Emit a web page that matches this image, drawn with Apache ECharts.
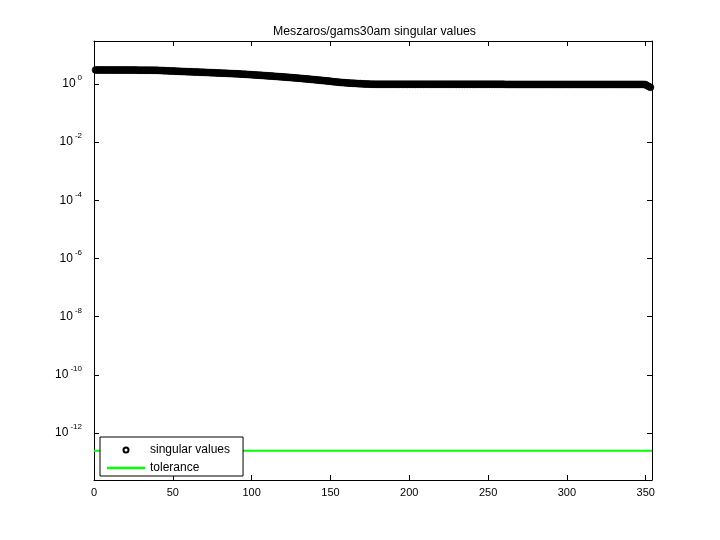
<!DOCTYPE html>
<html>
<head>
<meta charset="utf-8">
<script src="https://cdn.jsdelivr.net/npm/echarts@6/dist/echarts.min.js"></script>
<style>html,body{margin:0;padding:0;background:#fff}#c{width:720px;height:540px}</style>
</head>
<body>
<div id="c"></div>
<script>
const titleText = 'Meszaros/gams30am singular values';
const xTicks = [0, 50, 100, 150, 200, 250, 300, 350];
const xMax = 354;
const yTicks = [1e-12, 1e-10, 1e-8, 1e-6, 1e-4, 1e-2, 1];
const yMinExp = -13.62, yMaxExp = 1.48;
const singularValues = [
3.06,3.05,3.05,3.05,3.04,3.04,3.04,3.04,3.03,3.03,
3.03,3.03,3.03,3.03,3.02,3.02,3.02,3.02,3.02,3.02,
3.02,3.01,3.01,3.01,3.01,3.01,3.01,3.00,3.00,3.00,
3.00,3.00,2.99,2.99,2.99,2.99,2.98,2.98,2.97,2.96,
2.94,2.93,2.91,2.89,2.88,2.86,2.84,2.83,2.81,2.79,
2.78,2.76,2.75,2.73,2.72,2.70,2.69,2.68,2.66,2.65,
2.64,2.62,2.61,2.60,2.58,2.57,2.56,2.54,2.53,2.52,
2.50,2.49,2.48,2.46,2.45,2.44,2.42,2.41,2.40,2.38,
2.37,2.36,2.34,2.33,2.32,2.30,2.29,2.28,2.26,2.25,
2.24,2.22,2.21,2.19,2.18,2.16,2.14,2.12,2.11,2.09,
2.07,2.06,2.04,2.02,2.00,1.99,1.97,1.95,1.94,1.92,
1.90,1.88,1.87,1.85,1.83,1.82,1.80,1.78,1.77,1.75,
1.73,1.72,1.70,1.68,1.67,1.65,1.63,1.61,1.60,1.58,
1.56,1.55,1.53,1.51,1.49,1.48,1.46,1.44,1.43,1.41,
1.39,1.37,1.36,1.34,1.32,1.31,1.29,1.27,1.26,1.24,
1.22,1.20,1.19,1.17,1.16,1.14,1.13,1.12,1.11,1.10,
1.09,1.08,1.07,1.06,1.06,1.05,1.04,1.03,1.03,1.02,
1.01,1.01,1.00,1.00,0.99,0.99,0.99,0.98,0.98,0.98,
0.98,0.98,0.98,0.98,0.98,0.98,0.98,0.98,0.98,0.98,
0.98,0.98,0.98,0.98,0.98,0.98,0.98,0.98,0.98,0.98,
0.98,0.98,0.98,0.98,0.98,0.98,0.98,0.98,0.98,0.98,
0.98,0.98,0.98,0.98,0.98,0.98,0.98,0.98,0.98,0.98,
0.98,0.98,0.98,0.98,0.98,0.98,0.98,0.98,0.98,0.98,
0.98,0.98,0.98,0.98,0.98,0.98,0.98,0.98,0.98,0.98,
0.98,0.98,0.98,0.98,0.98,0.98,0.98,0.98,0.98,0.98,
0.98,0.98,0.98,0.98,0.98,0.98,0.98,0.98,0.98,0.98,
0.97,0.97,0.97,0.97,0.97,0.97,0.97,0.97,0.97,0.97,
0.97,0.97,0.97,0.97,0.97,0.97,0.97,0.97,0.97,0.97,
0.97,0.97,0.97,0.97,0.97,0.97,0.97,0.97,0.97,0.97,
0.97,0.97,0.97,0.97,0.97,0.97,0.97,0.97,0.97,0.97,
0.97,0.97,0.97,0.97,0.97,0.97,0.97,0.97,0.97,0.97,
0.97,0.97,0.97,0.97,0.97,0.97,0.97,0.97,0.97,0.97,
0.97,0.97,0.97,0.97,0.97,0.97,0.97,0.97,0.97,0.97,
0.97,0.97,0.97,0.97,0.97,0.97,0.97,0.97,0.97,0.97,
0.97,0.97,0.97,0.97,0.97,0.97,0.97,0.97,0.97,0.95,
0.88,0.82,0.77
];
const toleranceX = [0, 354];
const toleranceY = [2.45e-13, 2.45e-13];

const FONT = 'Liberation Sans, Arial, Helvetica, sans-serif';
const svData = singularValues.map((v, i) => [i + 1, v]);
const tolData = toleranceX.map((x, i) => [x, toleranceY[i]]);

function yFmt(v) {
  const e = Math.round(Math.log10(v));
  return '{b|10}{s|' + e + '}';
}

const chart = echarts.init(document.getElementById('c'), null, {renderer: 'canvas'});
const axisLineStyle = {color: '#000', width: 1};
chart.setOption({
  animation: false,
  backgroundColor: '#fff',
  title: {
    text: titleText, left: 268, top: 21,
    textStyle: {fontFamily: FONT, fontSize: 12.3, fontWeight: 'normal', color: '#000'}
  },
  grid: {left: 94, right: 68, top: 41, bottom: 60, containLabel: false},
  legend: {
    left: 100, top: 437, orient: 'vertical',
    backgroundColor: '#fff', borderColor: '#000', borderWidth: 1,
    padding: [5, 13, 2, 6], itemGap: 4, itemWidth: 38, itemHeight: 14,
    symbolKeepAspect: true,
    textStyle: {fontFamily: FONT, fontSize: 12, color: '#000'},
    data: [
      {name: 'singular values',
       icon: 'path://M0,0M38,14M16.5,7A2.5,2.5 0 1 1 21.5,7A2.5,2.5 0 1 1 16.5,7Z',
       itemStyle: {color: 'rgba(0,0,0,0)', borderColor: '#000', borderWidth: 2}},
      {name: 'tolerance',
       icon: 'path://M0,0L38,0L38,2.5L0,2.5Z',
       itemStyle: {color: '#00ff00', borderWidth: 0}}
    ]
  },
  xAxis: [{
    type: 'value', min: 0, max: xMax, interval: 50, position: 'bottom',
    axisLine: {show: true, onZero: false, lineStyle: axisLineStyle},
    axisTick: {show: true, inside: true, length: 5, lineStyle: axisLineStyle, customValues: xTicks},
    axisLabel: {customValues: xTicks, fontFamily: FONT, fontSize: 11, color: '#000', margin: 7},
    splitLine: {show: false}
  }, {
    type: 'value', min: 0, max: xMax, interval: 50, position: 'top',
    axisLine: {show: true, onZero: false, lineStyle: axisLineStyle},
    axisTick: {show: true, inside: true, length: 5, lineStyle: axisLineStyle, customValues: xTicks},
    axisLabel: {show: false}, splitLine: {show: false}
  }],
  yAxis: [{
    type: 'log', logBase: 10, min: Math.pow(10, yMinExp), max: Math.pow(10, yMaxExp),
    position: 'left',
    axisLine: {show: true, onZero: false, lineStyle: axisLineStyle},
    axisTick: {show: true, inside: true, length: 5, lineStyle: axisLineStyle, customValues: yTicks},
    minorTick: {show: false},
    axisLabel: {
      customValues: yTicks, formatter: yFmt, margin: 12, color: '#000',
      rich: {
        b: {fontFamily: FONT, fontSize: 12, color: '#000'},
        s: {fontFamily: FONT, fontSize: 8, color: '#000', padding: [0, 0, 12, 2]}
      }
    },
    splitLine: {show: false}
  }, {
    type: 'log', logBase: 10, min: Math.pow(10, yMinExp), max: Math.pow(10, yMaxExp),
    position: 'right',
    axisLine: {show: true, onZero: false, lineStyle: axisLineStyle},
    axisTick: {show: true, inside: true, length: 5, lineStyle: axisLineStyle, customValues: yTicks},
    axisLabel: {show: false}, splitLine: {show: false}
  }],
  series: [{
    name: 'singular values', type: 'scatter', data: svData,
    symbol: 'circle', symbolSize: 7,
    itemStyle: {color: '#000', borderColor: '#000', borderWidth: 0.5, opacity: 1},
    z: 3
  }, {
    name: 'tolerance', type: 'line', data: tolData, showSymbol: false, symbol: 'none',
    lineStyle: {color: '#00ff00', width: 2}, itemStyle: {color: '#00ff00'},
    z: 2
  }]
});
</script>
</body>
</html>
